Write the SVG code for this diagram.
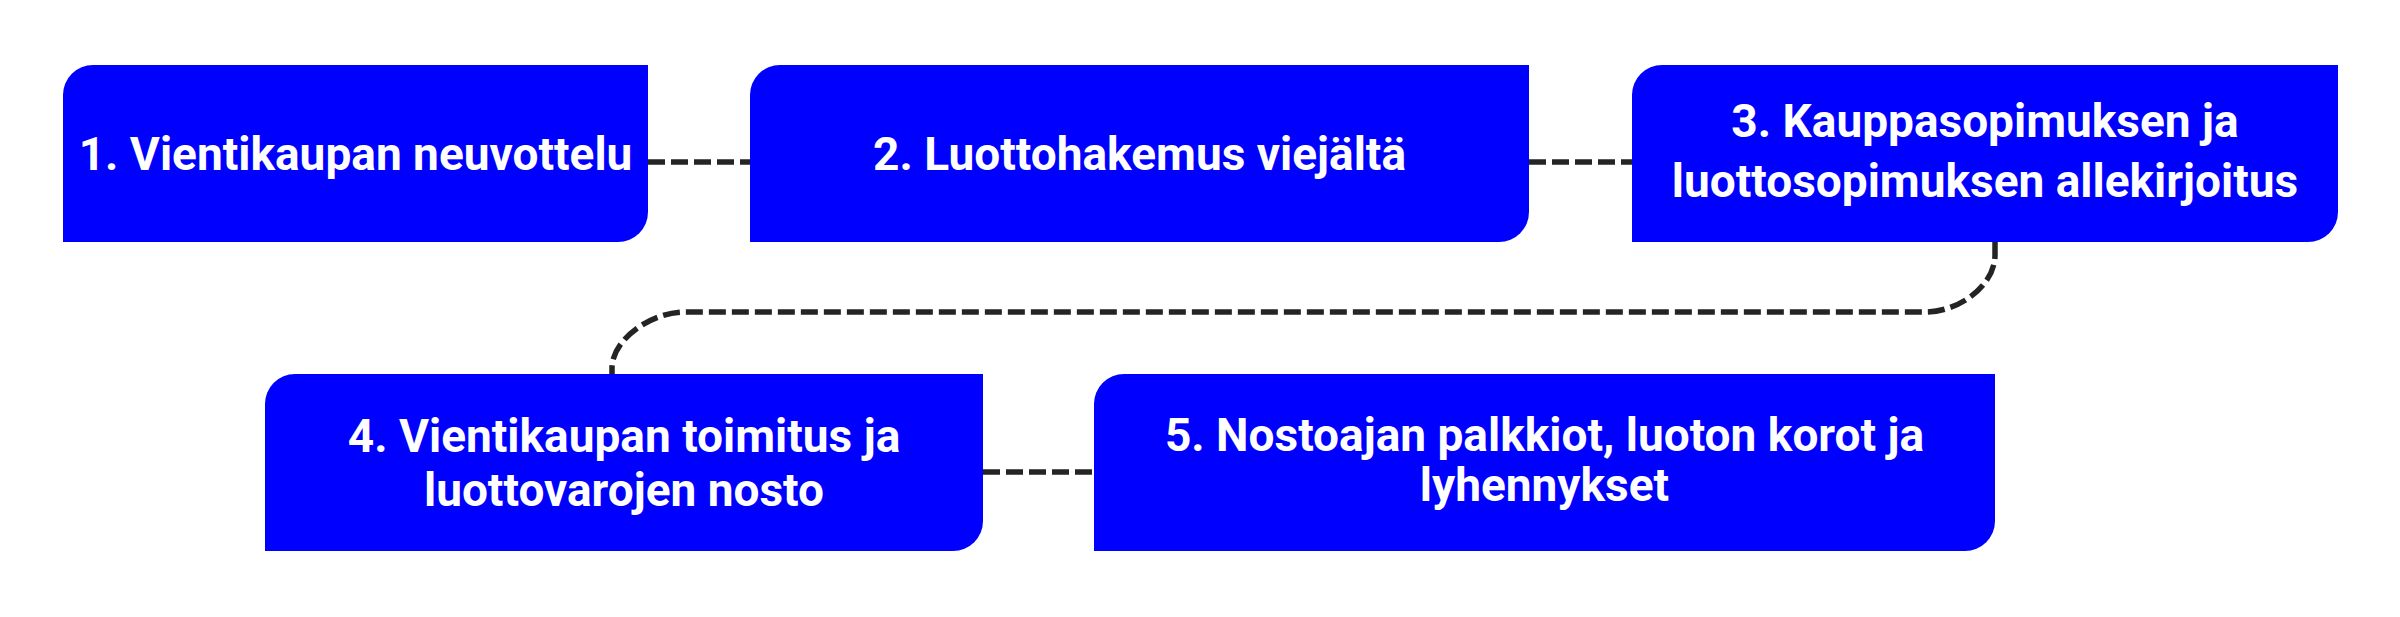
<svg xmlns="http://www.w3.org/2000/svg" width="2400" height="617" viewBox="0 0 2400 617">
<style>
.box{fill:#0000ff;}
.lbl{font-family:Roboto,"Liberation Sans",sans-serif;font-size:46px;font-weight:700;fill:#ffffff;text-anchor:middle;}
.conn{fill:none;stroke:#242424;stroke-width:5.5;stroke-dasharray:17 6;}
</style>
<rect width="2400" height="617" fill="#ffffff"/>
<g id="connectors">
<path class="conn" d="M648 162 H750"/>
<path class="conn" d="M1529 162 H1632"/>
<path class="conn" d="M1995 242 V255 C1995 285 1960 312 1925 312 H685 C650 312 612 340 612 368 V374"/>
<path class="conn" d="M983 472 H1094"/>
</g>
<g id="node1">
<path class="box" d="M93 65 H648 V212 A30 30 0 0 1 618 242 H63 V95 A30 30 0 0 1 93 65 Z"/>
<text class="lbl" x="355.5" y="170">1. Vientikaupan neuvottelu</text>
</g>
<g id="node2">
<path class="box" d="M780 65 H1529 V212 A30 30 0 0 1 1499 242 H750 V95 A30 30 0 0 1 780 65 Z"/>
<text class="lbl" x="1139.5" y="170">2. Luottohakemus viejältä</text>
</g>
<g id="node3">
<path class="box" d="M1662 65 H2338 V212 A30 30 0 0 1 2308 242 H1632 V95 A30 30 0 0 1 1662 65 Z"/>
<text class="lbl" x="1985" y="137">3. Kauppasopimuksen ja</text>
<text class="lbl" x="1985" y="197">luottosopimuksen allekirjoitus</text>
</g>
<g id="node4">
<path class="box" d="M295 374 H983 V521 A30 30 0 0 1 953 551 H265 V404 A30 30 0 0 1 295 374 Z"/>
<text class="lbl" x="624" y="452">4. Vientikaupan toimitus ja</text>
<text class="lbl" x="624" y="506">luottovarojen nosto</text>
</g>
<g id="node5">
<path class="box" d="M1124 374 H1995 V521 A30 30 0 0 1 1965 551 H1094 V404 A30 30 0 0 1 1124 374 Z"/>
<text class="lbl" x="1544.5" y="451">5. Nostoajan palkkiot, luoton korot ja</text>
<text class="lbl" x="1544.5" y="501">lyhennykset</text>
</g>
</svg>
